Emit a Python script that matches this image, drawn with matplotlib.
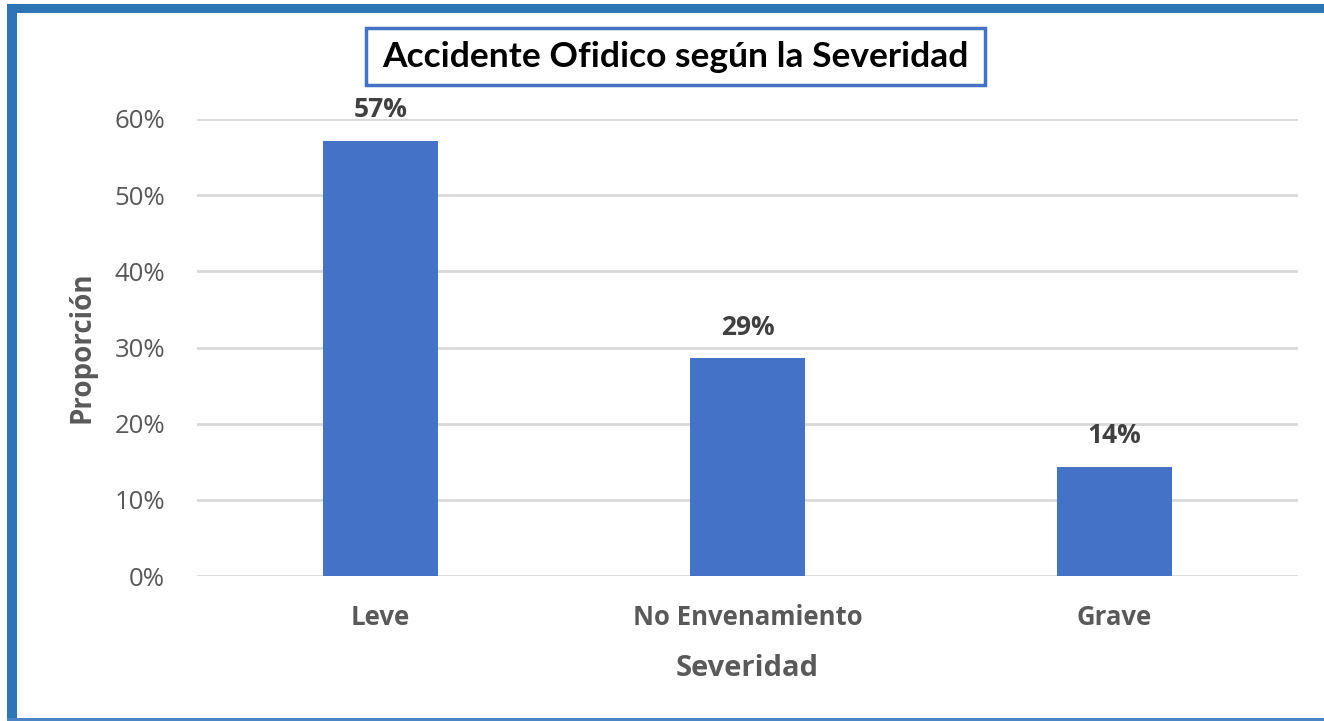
import matplotlib
matplotlib.use("Agg")
import matplotlib.pyplot as plt
from matplotlib.patches import Rectangle
from matplotlib.ticker import PercentFormatter

categories = ["Leve", "No Envenamiento", "Grave"]
proportions = [0.5714, 0.2857, 0.1429]
labels = ["57%", "29%", "14%"]
yticks = [0, 0.1, 0.2, 0.3, 0.4, 0.5, 0.6]

FONT = ["Open Sans", "DejaVu Sans"]
TFONT = ["Lato", "DejaVu Sans"]

W, H = 1324, 721
fig = plt.figure(figsize=(W / 100, H / 100), dpi=100)
fig.patch.set_facecolor("white")

def px(x0, y0, w, h, **kw):
    # rectangle in pixel coords (top-left origin)
    r = Rectangle((x0 / W, 1 - (y0 + h) / H), w / W, h / H,
                  transform=fig.transFigure, **kw)
    fig.add_artist(r)
    return r

border = "#2E75B6"
px(7, 4, W - 7, 9, facecolor=border, edgecolor="none")
px(7, 4, 10, H - 4, facecolor=border, edgecolor="none")
px(7, 718, W - 7, 3, facecolor="#4A86C5", edgecolor="none")

ax = fig.add_axes([197 / W, 1 - 576 / H, (1298 - 197) / W, (576 - 119) / H])
ax.set_facecolor("white")
x = range(len(categories))
bars = ax.bar(x, proportions, width=0.315, color="#4472C4", zorder=3)
ax.set_ylim(0, 0.6)
ax.set_xlim(-0.5, len(categories) - 0.5)
ax.set_yticks(yticks)
ax.yaxis.set_major_formatter(PercentFormatter(1.0, decimals=0))
ax.grid(axis="y", color="#D9D9D9", linewidth=2, zorder=0)
for s in ax.spines.values():
    s.set_visible(False)
ax.tick_params(axis="both", length=0)
ax.tick_params(axis="y", labelsize=18.5, labelcolor="#595959", pad=23)
for t in ax.get_yticklabels():
    t.set_fontfamily(FONT)
ax.set_xticks(list(x))
ax.set_xticklabels(categories, fontsize=18.5, fontweight="bold", color="#595959",
                   fontfamily=FONT)
ax.tick_params(axis="x", pad=20)

for b, lab in zip(bars, labels):
    ax.annotate(lab, (b.get_x() + b.get_width() / 2, b.get_height()),
                xytext=(0, 22.5), textcoords="offset points", ha="center", va="center",
                fontsize=19, fontweight="bold", color="#404040", fontfamily=FONT,
                annotation_clip=False)

ax.set_xlabel("Severidad", fontsize=21, fontweight="bold", color="#595959",
              fontfamily=FONT, labelpad=17)
ax.set_ylabel("Proporción", fontsize=20, fontweight="bold", color="#595959",
              fontfamily=FONT, labelpad=13)

# title box
px(366, 28, 619, 57, facecolor="white", edgecolor="#4472C4", linewidth=2.5)
fig.text(675 / W, 1 - 57 / H, "Accidente Ofidico según la Severidad",
         ha="center", va="center", fontsize=25.5, fontweight="bold", color="black",
         fontfamily=TFONT)

fig.savefig("out.png", dpi=100)
